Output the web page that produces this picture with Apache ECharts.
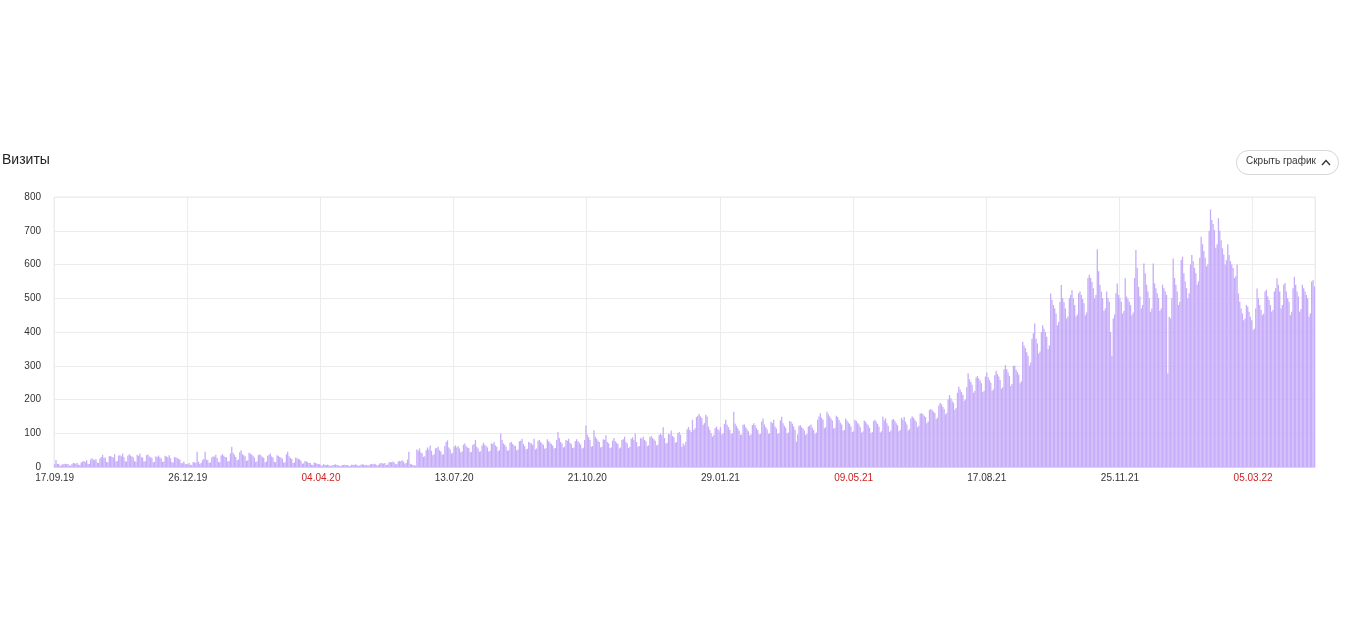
<!DOCTYPE html>
<html>
<head>
<meta charset="utf-8">
<script src="https://cdn.jsdelivr.net/npm/echarts@6/dist/echarts.min.js"></script>
<style>
html,body{margin:0;padding:0;background:#fff;}
#chart{width:1350px;height:629px;}
</style>
</head>
<body>
<div id="chart"></div>
<script>
const startDate = [2019, 9, 17]; // 17.09.19, one bar per day
const tickLabels = ['17.09.19','26.12.19','04.04.20','13.07.20','21.10.20','29.01.21','09.05.21','17.08.21','25.11.21','05.03.22'];
const redLabels = ['04.04.20','09.05.21','05.03.22'];
const yTicks = [0,100,200,300,400,500,600,700,800];
const visits = [
8,21,10,9,4,5,8, 9,10,8,9,5,4,9, 12,11,10,12,6,7,14, 16,18,15,20,10,9,22, 26,22,20,24,13,12,25,
30,36,27,28,15,14,32, 33,30,28,38,16,18,34, 35,32,40,30,17,16,33, 38,34,31,29,18,15,36, 33,40,30,28,16,17,35,
37,31,29,27,14,15,32, 30,34,28,25,15,16,33, 31,29,35,26,14,13,30, 28,27,24,22,12,11,16, 10,8,9,12,6,7,15,
14,12,45,16,10,12,20, 24,45,22,20,12,14,28, 32,30,36,27,15,14,34, 38,33,30,29,16,18,40, 60,42,36,30,20,22,44,
50,38,35,32,18,20,42, 40,36,33,28,15,16,35, 38,34,30,27,14,16,33, 36,40,31,28,15,14,35, 33,30,28,25,13,14,38,
45,32,27,24,12,13,28, 26,24,22,18,10,11,18, 16,14,12,12,7,6,13, 12,10,9,8,5,4,8, 7,6,7,6,3,4,6,
7,8,6,5,3,3,6, 6,7,5,6,4,3,7, 7,6,8,6,4,4,7, 8,7,6,7,4,5,8, 9,8,10,8,5,5,10,
12,11,10,12,6,7,13, 15,14,16,13,8,9,16, 18,17,20,16,10,12,22, 45,10,8,6,5,4,52, 48,55,44,40,30,32,50,
58,52,64,48,35,38,55, 56,60,50,46,36,38,62, 74,79,58,52,40,42,60, 64,58,62,55,44,46,66, 70,62,58,56,45,44,65,
68,80,60,55,45,47,64, 72,66,62,58,46,48,70, 68,74,64,60,47,50,99, 80,70,66,60,48,50,72, 74,68,64,62,50,52,76,
78,84,68,62,52,54,74, 72,70,66,84,52,55,78, 80,74,70,66,54,56,82, 76,72,68,64,55,56,80, 104,86,74,70,58,60,80,
78,84,72,68,56,58,76, 82,76,72,66,55,57,80, 123,96,88,80,60,62,109, 90,84,78,74,58,60,82, 80,94,74,70,56,58,78,
86,76,72,68,55,58,80, 82,90,74,70,56,60,84, 88,80,99,74,60,62,86, 84,90,80,76,62,64,88, 92,86,82,78,64,66,95,
99,94,118,86,70,72,98, 96,108,92,88,72,74,100, 104,96,60,70,64,75,112, 118,110,104,140,110,115,148, 152,158,150,145,125,130,155,
150,120,110,100,90,95,115, 120,112,108,118,96,100,128, 140,125,118,110,98,100,164, 128,122,115,108,95,96,125, 126,118,112,106,94,96,124,
130,124,116,110,96,98,135, 144,126,118,112,98,100,134, 130,140,120,114,98,100,138, 149,130,122,116,100,102,136, 134,128,120,110,75,96,122,
124,118,114,108,95,98,120, 122,126,116,110,98,102,140, 150,159,146,140,115,118,164, 156,150,144,138,114,116,152, 148,140,132,126,108,110,144,
138,132,128,120,104,106,140, 136,130,126,118,102,105,138, 134,128,124,116,100,104,136, 140,134,128,120,102,106,149, 138,144,130,122,104,108,140,
142,136,130,124,106,110,146, 140,148,134,126,108,112,144, 150,146,140,134,118,122,158, 160,156,152,148,130,134,169, 172,168,164,160,142,146,182,
190,186,178,172,156,160,200, 213,204,196,190,170,175,220, 238,230,222,214,196,200,236, 278,260,252,244,220,225,265, 270,262,256,248,222,226,268,
280,266,258,250,226,230,272, 285,276,268,258,232,236,290, 302,290,280,270,240,246,300, 300,288,282,274,248,254,371, 360,352,340,330,300,310,380,
396,425,380,366,336,342,400, 420,410,400,386,350,360,514, 495,480,470,455,420,430,490, 539,500,488,470,440,446,500, 510,524,500,480,446,452,515,
520,510,498,485,450,458,560, 570,560,548,530,500,510,645, 580,540,520,500,462,470,520, 500,490,400,330,440,452,515, 544,510,500,490,455,462,559,
505,498,490,480,450,458,560, 643,590,534,505,470,480,603, 574,540,520,500,460,470,603, 544,530,515,500,462,470,540, 530,520,510,277,445,440,500,
618,560,540,520,480,490,613, 623,574,550,530,500,515,600, 628,610,590,574,540,550,620, 682,660,640,620,594,600,700, 763,732,720,702,650,660,737,
700,672,648,630,600,613,660, 628,610,600,590,560,565,600, 514,490,470,455,435,440,480, 475,460,445,435,406,410,470, 529,500,480,465,450,455,520,
525,505,495,480,460,465,520, 530,559,540,520,470,480,540, 545,520,500,490,450,460,530, 564,540,520,505,460,468,540, 530,520,510,500,445,455,550,
553,535
];

function pad(n){return (n<10?'0':'')+n;}
const categories = [];
{
  const d0 = new Date(Date.UTC(startDate[0], startDate[1]-1, startDate[2]));
  for (let i = 0; i < visits.length; i++) {
    const d = new Date(d0.getTime() + i*86400000);
    categories.push(pad(d.getUTCDate())+'.'+pad(d.getUTCMonth()+1)+'.'+String(d.getUTCFullYear()).slice(2));
  }
}

const chart = echarts.init(document.getElementById('chart'), null, {renderer:'canvas'});
chart.setOption({
  animation:false,
  backgroundColor:'#ffffff',
  textStyle:{fontFamily:'Arial, "Liberation Sans", sans-serif'},
  grid:{left:54,right:35,top:197,bottom:162,show:true,borderColor:'#ececec',borderWidth:1,containLabel:false},
  xAxis:{
    type:'category',
    data:categories,
    boundaryGap:true,
    axisLine:{show:true,lineStyle:{color:'#d8d8d8'}},
    axisTick:{show:false},
    axisLabel:{
      interval:function(i,v){return tickLabels.indexOf(v)>=0;},
      fontSize:10,
      margin:6,
      color:function(v){return redLabels.indexOf(v)>=0?'#cc2222':'#333333';}
    },
    splitLine:{show:true,interval:function(i,v){return tickLabels.indexOf(v)>=0;},lineStyle:{color:'#ececec',width:1}}
  },
  yAxis:{
    type:'value',
    min:yTicks[0],max:yTicks[yTicks.length-1],interval:100,
    axisLine:{show:false},axisTick:{show:false},
    axisLabel:{fontSize:10,color:'#333333',margin:13},
    splitLine:{lineStyle:{color:'#ececec'}}
  },
  series:[{
    type:'bar',
    data:visits,
    barCategoryGap:'4%',
    itemStyle:{color:'#c6acf9'},
    emphasis:{disabled:true}
  }],
  graphic:[
    {type:'text',left:2,top:153,style:{text:'Визиты',fontSize:14,fill:'#222',fontFamily:'Arial, "Liberation Sans", sans-serif'}},
    {type:'rect',left:1236,top:150,shape:{width:102,height:24,r:12},style:{fill:'#fff',stroke:'#d6d6d6',lineWidth:1}},
    {type:'text',left:1246,top:156,style:{text:'Скрыть график',fontSize:10,fill:'#333',fontFamily:'Arial, "Liberation Sans", sans-serif'}},
    {type:'polyline',shape:{points:[[1322,165],[1326,160.5],[1330,165]]},style:{stroke:'#333',lineWidth:1.3,fill:null}}
  ]
});
</script>
</body>
</html>
